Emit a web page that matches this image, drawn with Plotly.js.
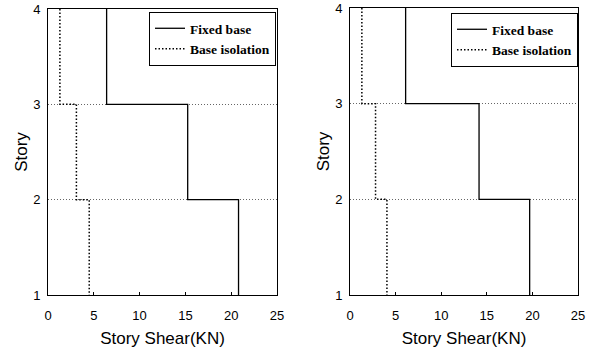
<!DOCTYPE html>
<html>
<head>
<meta charset="utf-8">
<script src="https://cdn.plot.ly/plotly-3.0.1.min.js"></script>
<style>html,body{margin:0;padding:0;background:#fff}#chart{width:595px;height:351px}</style>
</head>
<body>
<div id="chart"></div>
<script>
// Story levels (floor boundaries) and story shear per interval (bottom to top)
const storyLevels = [1, 2, 3, 4];
const leftFixed = [20.8, 15.25, 6.4];
const leftIsolation = [4.5, 3.1, 1.3];
const rightFixed = [19.7, 14.15, 6.1];
const rightIsolation = [4.05, 2.8, 1.3];
const xTicks = [0, 5, 10, 15, 20, 25];
const yTicks = [1, 2, 3, 4];

function steps(vals) {
  const xs = [], ys = [];
  for (let i = vals.length - 1; i >= 0; i--) {
    xs.push(vals[i], vals[i]);
    ys.push(storyLevels[i + 1], storyLevels[i]);
  }
  return {x: xs, y: ys};
}

function trace(vals, name, dash, xa, ya, leg, w) {
  const s = steps(vals);
  return {x: s.x, y: s.y, mode: 'lines', name: name, xaxis: xa, yaxis: ya, legend: leg,
    line: {color: '#000', width: w, dash: dash, shape: 'linear'}};
}

const data = [
  trace(leftFixed, 'Fixed base', 'solid', 'x', 'y', 'legend', 1.3),
  trace(leftIsolation, 'Base isolation', '1.5px,2px', 'x', 'y', 'legend', 1.5),
  trace(rightFixed, 'Fixed base', 'solid', 'x2', 'y2', 'legend2', 1.3),
  trace(rightIsolation, 'Base isolation', '1.5px,2px', 'x2', 'y2', 'legend2', 1.5)
];

const tickFont = {family: 'Liberation Sans, Arial, sans-serif', size: 13, color: '#000'};
const titleFont = {family: 'Liberation Sans, Arial, sans-serif', size: 17, color: '#000'};
function xax(domain, anchor) {
  return {domain: domain, anchor: anchor, range: [0, 25], tickvals: xTicks, ticks: 'inside', ticklen: 3,
    tickcolor: '#000', showline: true, mirror: true, linecolor: '#000', linewidth: 1, showgrid: false,
    zeroline: false, tickfont: tickFont, ticklabelstandoff: 8,
    title: {text: 'Story Shear(KN)', font: titleFont, standoff: 10}};
}
function yax(domain, anchor) {
  return {domain: domain, anchor: anchor, range: [1, 4], tickvals: yTicks, ticks: '', showline: true,
    mirror: true, linecolor: '#000', linewidth: 1, showgrid: true, gridcolor: '#666', griddash: '1px,2px',
    gridwidth: 1, zeroline: false, tickfont: tickFont, ticklabelstandoff: 4,
    title: {text: 'Story', font: titleFont, standoff: 1}};
}
const legFont = {family: 'Liberation Serif, Times New Roman, serif', size: 13.5, color: '#000', weight: 'bold'};
function leg(x, y) {
  return {x: x, y: y, xanchor: 'right', yanchor: 'top', bgcolor: '#fff', bordercolor: '#000', borderwidth: 1,
    font: legFont, itemwidth: 30, tracegroupgap: 0};
}
const layout = {
  width: 595, height: 351, margin: {l: 0, r: 0, t: 0, b: 0}, showlegend: true,
  paper_bgcolor: '#fff', plot_bgcolor: '#fff',
  xaxis: xax([48/595, 277/595], 'y'),
  yaxis: yax([56/351, 342/351], 'x'),
  xaxis2: xax([350/595, 578/595], 'y2'),
  yaxis2: yax([56/351, 343/351], 'x2'),
  legend: leg(276/595, 339/351),
  legend2: leg(578/595, 338/351)
};
Plotly.newPlot('chart', data, layout, {displayModeBar: false, staticPlot: true});
</script>
</body>
</html>
